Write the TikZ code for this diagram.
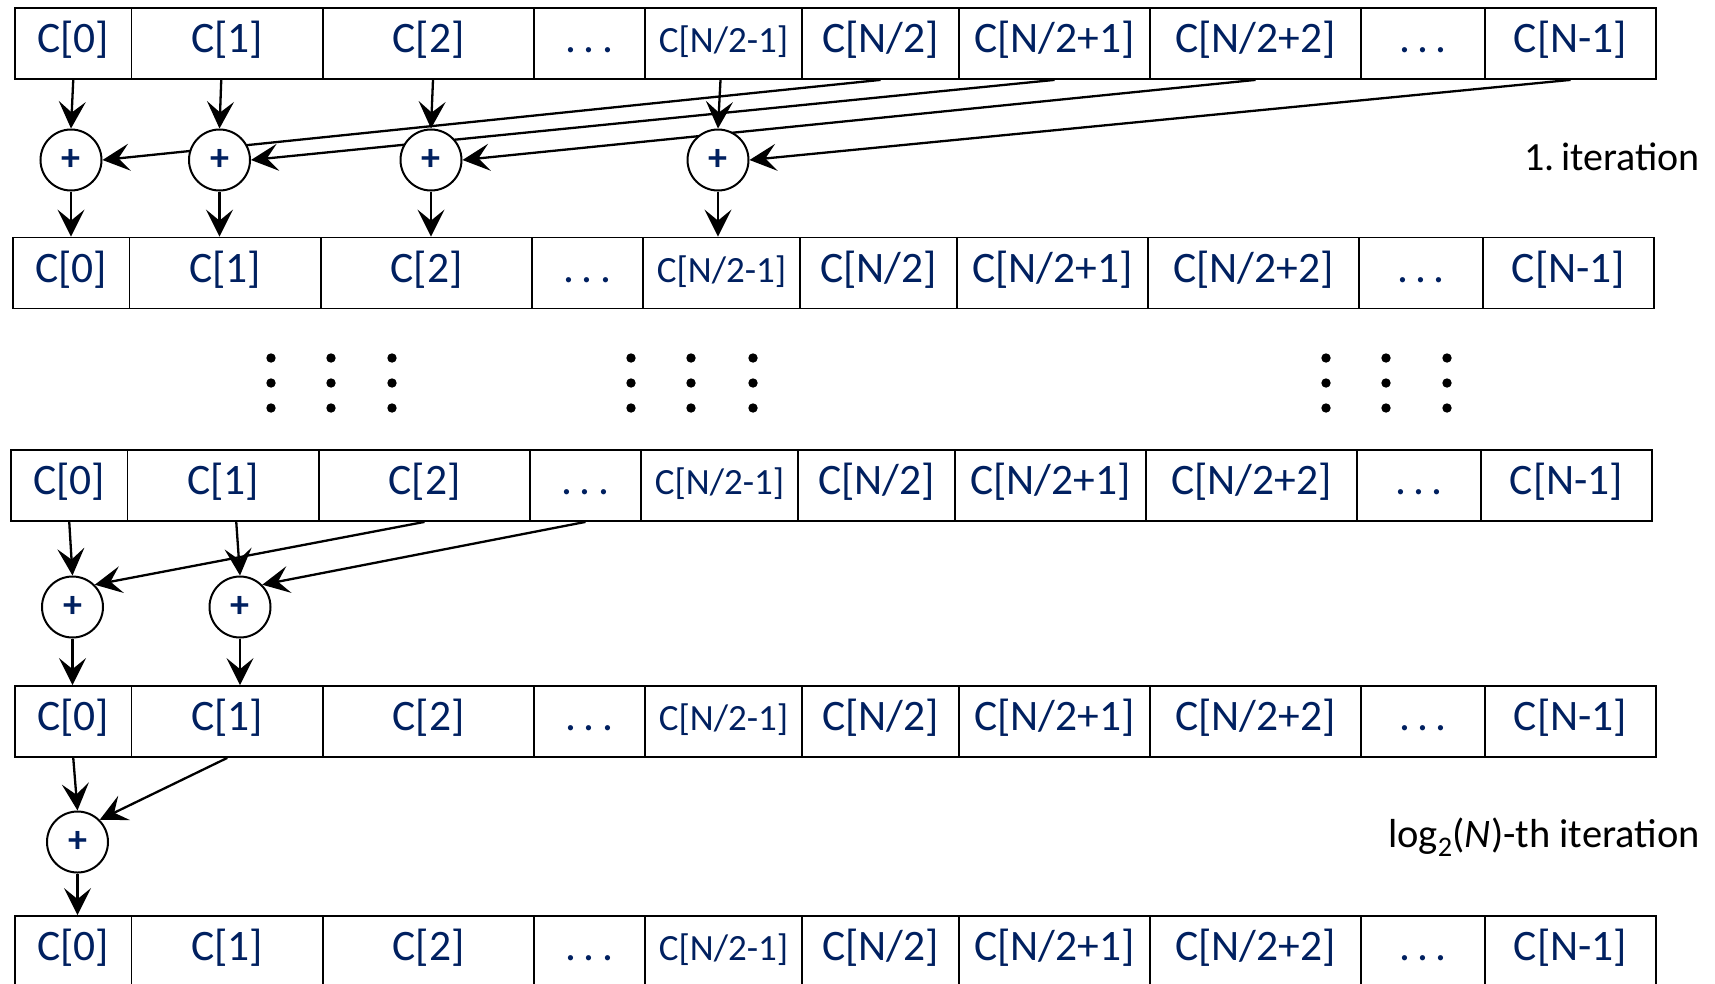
\documentclass[tikz,border=0pt]{standalone}
\usepackage{fontspec}
\setmainfont{Carlito}
\usetikzlibrary{arrows.meta,backgrounds}
\definecolor{navy}{RGB}{0,32,96}

\tikzset{
  cell/.style={draw, line width=1.8pt, fill=white, minimum height=71pt,
    inner sep=0pt, text height=27pt, text depth=9pt, text=navy,
    font=\fontsize{43.5}{48}\selectfont},
  norm/.style={},
  small/.style={font=\fontsize{37}{44}\selectfont},
  adder/.style={circle, draw, line width=2pt, fill=white, minimum size=61pt,
    inner sep=0pt, text=navy, font=\bfseries\fontsize{38}{44}\selectfont},
  link/.style={line width=2.3pt, -{Stealth[length=27pt,width=27pt,inset=11pt]}},
  itlabel/.style={anchor=base east, inner sep=0pt, text=black,
    font=\fontsize{40}{48}\selectfont}
}

% one array row: name prefix, top edge, horizontal offset
\newcommand\arrayrow[3]{%
  \foreach \l/\r/\t/\s [count=\i from 0] in {
      15/131.5/{C[0]}/norm,
      131.5/323/{C[1]}/norm,
      323/534/{C[2]}/norm,
      534/645/{.\,.\,.}/norm,
      645/802/{C[N/2-1]}/small,
      802/959/{C[N/2]}/norm,
      959/1150/{C[N/2+1]}/norm,
      1150/1361/{C[N/2+2]}/norm,
      1361/1485/{.\,.\,.}/norm,
      1485/1656/{C[N-1]}/norm}{%
    \pgfmathsetmacro\w{\r-\l}%
    \pgfmathsetmacro\cx{(\l+\r)/2+#3}%
    \node[cell, \s, minimum width=\w pt] (#1c\i) at (\cx, #2+35.5) {\t};
  }%
}

\begin{document}
\begin{tikzpicture}[x=1pt, y=-1pt]
  \useasboundingbox (0,0) rectangle (1715,983);

  % the five copies of the array
  \arrayrow{r1}{8}{0}
  \arrayrow{r2}{237.5}{-2}
  \arrayrow{r3}{450}{-4}
  \arrayrow{r4}{686}{0}
  \arrayrow{r5}{916}{0}

  % adders
  \node[adder] (a0) at (71,160) {+};
  \node[adder] (a1) at (219.5,160) {+};
  \node[adder] (a2) at (431,160) {+};
  \node[adder] (a3) at (718,160) {+};
  \node[adder] (b0) at (72.5,607) {+};
  \node[adder] (b1) at (240,607) {+};
  \node[adder] (c0) at (77.5,842) {+};

  \begin{scope}[on background layer]
    % first iteration
    \draw[link] (r1c0.south) -- (a0.north);
    \draw[link] ([xshift=-6pt]r1c1.south) -- (a1.north);
    \draw[link] ([xshift=4.5pt]r1c2.south) -- (a2.north);
    \draw[link] ([xshift=-3pt]r1c4.south) -- (a3.north);
    \draw[link] (r1c5.south) -- (a0.east);
    \draw[link] (r1c6.south) -- (a1.east);
    \draw[link] (r1c7.south) -- (a2.east);
    \draw[link] (r1c9.south) -- (a3.east);
    \foreach \a in {a0,a1,a2,a3}
      \draw[link] (\a.south) -- (\a.south |- r2c0.north);

    % second to last iteration
    \draw[link] (r3c0.south) -- (b0.north);
    \draw[link] ([xshift=13pt]r3c1.south) -- (b1.north);
    \draw[link] (r3c2.south) -- (b0.north east);
    \draw[link] (r3c3.south) -- (b1.north east);
    \foreach \a in {b0,b1}
      \draw[link] (\a.south) -- (\a.south |- r4c0.north);

    % last iteration
    \draw[link] (r4c0.south) -- (c0.north);
    \draw[link] (r4c1.south) -- (c0.north east);
    \draw[link] (c0.south) -- (c0.south |- r5c0.north);
  \end{scope}

  % vertical ellipses between the rows
  \foreach \x in {271,331,392,631,691,753,1326,1386,1447}
    \foreach \y in {358,383,408}
      \fill (\x,\y) circle (4.7pt);

  % iteration labels
  \node[itlabel] (lab1) at (1700,170) {1.\,iteration};
  \node[itlabel, font=\fontsize{40.5}{46}\selectfont] (lab2) at (1700,847)
    {log\textsubscript{2}(\textit{N})-th iteration};
\end{tikzpicture}
\end{document}
